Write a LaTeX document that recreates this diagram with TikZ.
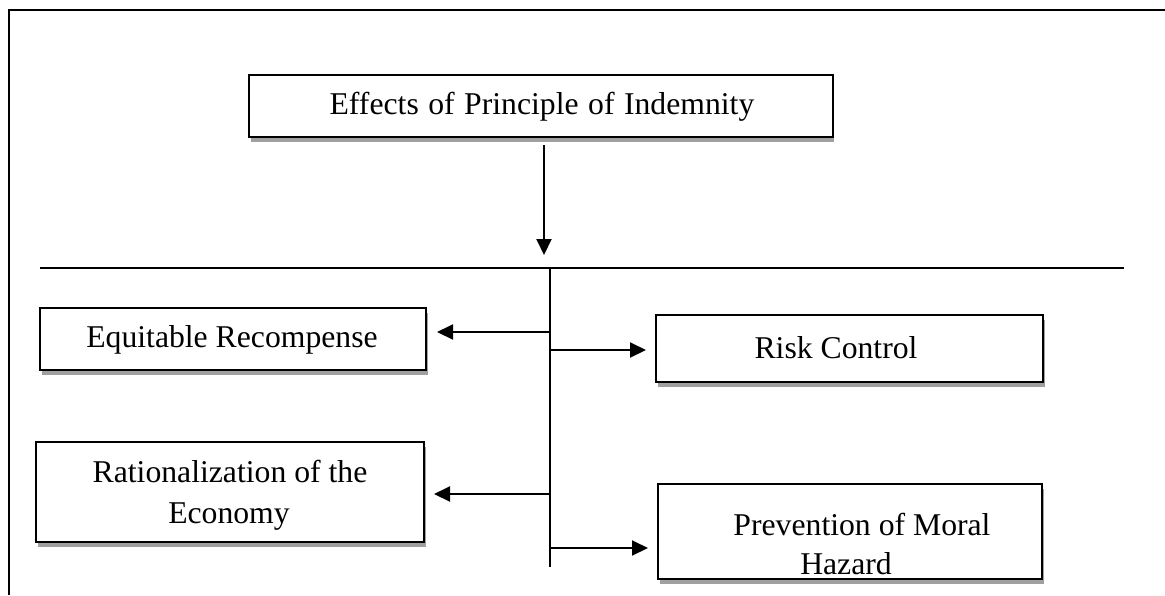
\documentclass[tikz,border=0pt]{standalone}
\usepackage{fontspec}
\setmainfont{Liberation Serif}
\usetikzlibrary{arrows.meta,shadows}
\definecolor{shadowgray}{HTML}{A0A0A0}
\begin{document}
\begin{tikzpicture}[x=1pt,y=-1pt,
  box/.style={draw=black,line width=2pt,fill=white,inner sep=0pt,
    drop shadow={shadow xshift=1.5pt,shadow yshift=-4.5pt,fill=shadowgray,opacity=1}},
  conn/.style={line width=2pt,-{Triangle[length=16pt,width=15pt]}},
  rule/.style={line width=1.8pt},
  lbl/.style={font=\fontsize{31.7}{41}\selectfont,inner sep=0pt,anchor=base}]
\useasboundingbox (0,0) rectangle (1165,595);
% outer frame (only top and left visible)
\draw[line width=2pt] (9,595) -- (9,10) -- (1165,10);

% boxes
\node[box,minimum width=583.5pt,minimum height=62pt] (top) at (541,106) {};
\node[box,minimum width=386pt,minimum height=62pt] (eq) at (233,339) {};
\node[box,minimum width=387pt,minimum height=67pt] (risk) at (849.5,348.5) {};
\node[box,minimum width=388pt,minimum height=100pt] (rat) at (230,492) {};
\node[box,minimum width=384pt,minimum height=95pt] (prev) at (850,531.5) {};

% labels
\node[lbl] (ttop) at (542,114) {\spaceskip=9.5pt Effects of Principle of Indemnity};
\node[lbl] (teq) at (232,347) {Equitable Recompense};
\node[lbl] (trisk) at (836,358) {Risk Control};
\node[lbl] (trat1) at (230,482) {Rationalization of the};
\node[lbl] (trat2) at (229,523) {Economy};
\node[lbl] (tprev1) at (862,535) {Prevention of Moral};
\node[lbl] (tprev2) at (846,574) {Hazard};

% bus lines
\coordinate (hl) at (40,268);
\coordinate (hr) at (1124,268);
\coordinate (vt) at (550,268);
\coordinate (vb) at (550,567);
\draw[rule] (hl) -- (hr);
\draw[rule] (vt) -- (vb);

% down arrow
\coordinate (dtop) at (544,145);
\coordinate (dend) at (544,255);
\draw[conn] (dtop) -- (dend);

% branch points
\coordinate (b1) at (550,332);
\coordinate (b2) at (551,350);
\coordinate (b3) at (550,494);
\coordinate (b4) at (551,548);
\draw[conn,shorten >=10pt] (b1) -- (eq.east |- b1);
\draw[conn,shorten >=9pt] (b2) -- (risk.west |- b2);
\draw[conn,shorten >=9pt] (b3) -- (rat.east |- b3);
\draw[conn,shorten >=9pt] (b4) -- (prev.west |- b4);
\end{tikzpicture}
\end{document}
